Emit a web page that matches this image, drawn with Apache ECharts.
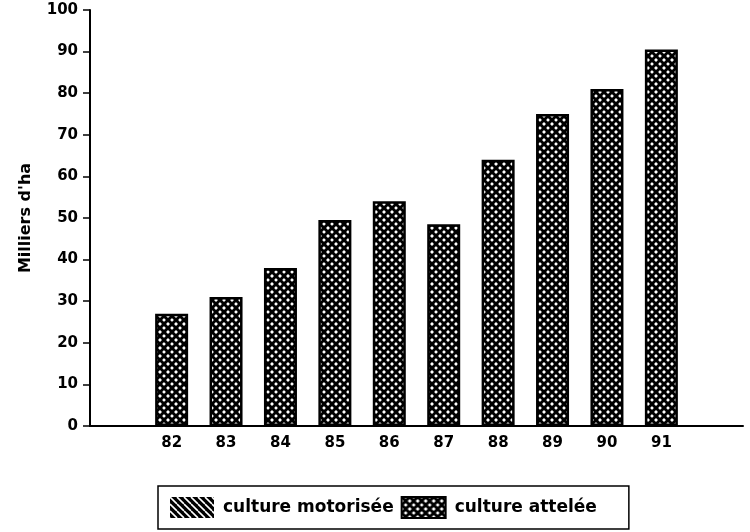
<!DOCTYPE html>
<html><head><meta charset="utf-8">
<script src="https://cdn.jsdelivr.net/npm/echarts@6/dist/echarts.min.js"></script>
<style>html,body{margin:0;padding:0;background:#fff}#c{width:750px;height:532px}</style>
</head><body><div id="c"></div>
<script>
// Data
const categories = ['', '82', '83', '84', '85', '86', '87', '88', '89', '90', '91', ''];
const motorisee = [null, 0, 0, 0, 0, 0, 0, 0, 0, 0, 0, null];
const attelee = [null, 27, 31, 38, 49.5, 54, 48.5, 64, 75, 81, 90.5, null];
const yTicks = [0, 10, 20, 30, 40, 50, 60, 70, 80, 90, 100];

function stripePattern() {
  const s = 7, c = document.createElement('canvas');
  c.width = s; c.height = s;
  const g = c.getContext('2d');
  g.fillStyle = '#000'; g.fillRect(0, 0, s, s);
  g.strokeStyle = '#fff'; g.lineWidth = 1.6;
  for (const o of [-s, 0, s]) { g.beginPath(); g.moveTo(o, 0); g.lineTo(o + s, s); g.stroke(); }
  return c;
}
function crossPattern() {
  const s = 8, c = document.createElement('canvas');
  c.width = s; c.height = s;
  const g = c.getContext('2d');
  g.fillStyle = '#fff'; g.fillRect(0, 0, s, s);
  g.strokeStyle = '#000'; g.lineWidth = 3;
  for (const o of [-s, 0, s]) {
    g.beginPath(); g.moveTo(o, 0); g.lineTo(o + s, s); g.stroke();
    g.beginPath(); g.moveTo(o, s); g.lineTo(o + s, 0); g.stroke();
  }
  return c;
}

const font = 'DejaVu Sans';
const chart = echarts.init(document.getElementById('c'));
chart.setOption({
  animation: false,
  backgroundColor: '#fff',
  grid: { left: 90, right: 7, top: 10, bottom: 106 },
  legend: {
    left: 158, top: 486,
    padding: [10, 32, 10, 12],
    itemGap: 7,
    itemWidth: 44, itemHeight: 21,
    borderColor: '#000', borderWidth: 1.5,
    icon: 'rect',
    textStyle: { fontFamily: font, fontSize: 17, fontWeight: 'bold', color: '#000', padding: [0, 0, 0, 4] },
    data: ['culture motorisée', 'culture attelée']
  },
  xAxis: {
    type: 'category', data: categories,
    axisLine: { lineStyle: { color: '#000', width: 2 } },
    axisTick: { length: 5, interval: (i) => i !== 1, lineStyle: { color: '#000', width: 1.5 } },
    axisLabel: { fontFamily: font, fontSize: 15, fontWeight: 'bold', color: '#000', margin: 10 }
  },
  yAxis: {
    type: 'value', min: 0, max: 100, interval: 10,
    name: "Milliers d'ha", nameLocation: 'middle', nameGap: 56,
    nameTextStyle: { fontFamily: font, fontSize: 16, fontWeight: 'bold', color: '#000' },
    axisLine: { show: true, lineStyle: { color: '#000', width: 2 } },
    axisTick: { show: true, length: 7, lineStyle: { color: '#000', width: 1.5 } },
    axisLabel: { fontFamily: font, fontSize: 15, fontWeight: 'bold', color: '#000', margin: 12,
      formatter: v => yTicks.includes(v) ? String(v) : '' },
    splitLine: { show: false }
  },
  series: [
    { name: 'culture motorisée', type: 'bar', stack: 't', barWidth: 33, data: motorisee,
      itemStyle: { color: { image: stripePattern(), repeat: 'repeat' }, borderWidth: 0 } },
    { name: 'culture attelée', type: 'bar', stack: 't', barWidth: 33, data: attelee,
      itemStyle: { color: { image: crossPattern(), repeat: 'repeat' }, borderColor: '#000', borderWidth: 2.5 } }
  ]
});
</script></body></html>
